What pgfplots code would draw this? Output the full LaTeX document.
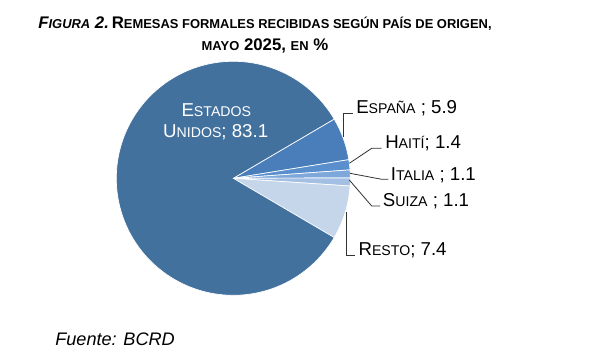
\documentclass[border=0pt]{standalone}
\usepackage{pgfplots}
\pgfplotsset{compat=1.18}
\usepackage{fontspec}
\setmainfont{Liberation Sans}

\definecolor{cUS}{HTML}{43719E}
\definecolor{cES}{HTML}{4A7EBB}
\definecolor{cHT}{HTML}{5A8FCE}
\definecolor{cIT}{HTML}{7EA7DA}
\definecolor{cSU}{HTML}{A3BFE3}
\definecolor{cRE}{HTML}{C5D5EA}

% fake small caps
\newcommand{\lsc}[2]{#1{\fontsize{10.6}{12}\selectfont #2}}
\newcommand{\tsc}[2]{#1{\fontsize{9.7}{12}\selectfont #2}}

\def\cx{233.3}\def\cy{178.3}\def\R{117}
\def\acur{30.42}
\newcommand{\slice}[3][80]{%
  \pgfmathsetmacro{\aend}{\acur-#2*3.6}%
  \edef\temp{\noexpand\addplot[fill=#3, draw=white, line width=0.5pt, domain=\aend:\acur, samples=#1]
    ({\cx+\R*cos(x)},{\cy-\R*sin(x)}) -- (axis cs:\cx,\cy) -- cycle;}%
  \temp
  \xdef\acur{\aend}%
}

\begin{document}
\begin{tikzpicture}
\begin{axis}[width=450.75pt,height=268.5pt,scale only axis,hide axis,clip=false,
  xmin=0,xmax=601,ymin=0,ymax=358,y dir=reverse]
% data: España 5.9, Haití 1.4, Italia 1.1, Suiza 1.1, Resto 7.4, Estados Unidos 83.1
\slice[40]{5.9}{cES}
\slice[20]{1.4}{cHT}
\slice[20]{1.1}{cIT}
\slice[20]{1.1}{cSU}
\slice[40]{7.4}{cRE}
\slice[200]{83.1}{cUS}

% title
\node[anchor=base] at (axis cs:265,28) {\fontsize{12.6}{15}\selectfont\bfseries
  {\itshape\tsc{F}{IGURA} 2.}\,\tsc{R}{EMESAS FORMALES RECIBIDAS SEGÚN PAÍS DE ORIGEN,}};
\node[anchor=base] at (axis cs:265,50.5) {\fontsize{12.6}{15}\selectfont\bfseries
  \tsc{}{MAYO} 2025, \tsc{}{EN} \%};

% US label
\node[anchor=base,text=white] at (axis cs:216.3,116) {\fontsize{14}{16}\selectfont \lsc{E}{STADOS}};
\node[anchor=base,text=white] at (axis cs:215.7,137.7) {\fontsize{14}{16}\selectfont \lsc{U}{NIDOS}; 83.1};

% leader lines
\draw[black!80, line width=0.6pt] (axis cs:343.3,136.7) -- (axis cs:343.3,113.3) -- (axis cs:353.3,113.3);
\draw[black!80, line width=0.6pt] (axis cs:349.3,163.3) -- (axis cs:371.7,148.3) -- (axis cs:381.7,148.3);
\draw[black!80, line width=0.6pt] (axis cs:350,173.3) -- (axis cs:381.7,179.3) -- (axis cs:388.3,179.3);
\draw[black!80, line width=0.6pt] (axis cs:349.3,180) -- (axis cs:371.7,206) -- (axis cs:380,206);
\draw[black!80, line width=0.6pt] (axis cs:346,211.7) -- (axis cs:346,255) -- (axis cs:355,255);

% labels
\node[anchor=base west,inner sep=0pt] at (axis cs:356,113.3) {\fontsize{14}{16}\selectfont \lsc{E}{SPAÑA} ; 5.9};
\node[anchor=base west,inner sep=0pt] at (axis cs:385,148.3) {\fontsize{14}{16}\selectfont \lsc{H}{AITÍ}; 1.4};
\node[anchor=base west,inner sep=0pt] at (axis cs:390.7,180) {\fontsize{14}{16}\selectfont \lsc{I}{TALIA} ; 1.1};
\node[anchor=base west,inner sep=0pt] at (axis cs:382.7,206.7) {\fontsize{14}{16}\selectfont \lsc{S}{UIZA} ; 1.1};
\node[anchor=base west,inner sep=0pt] at (axis cs:358.3,255) {\fontsize{14}{16}\selectfont \lsc{R}{ESTO}; 7.4};

% footer
\node[anchor=base west,inner sep=0pt] at (axis cs:55,345.7) {\fontsize{13.6}{15}\selectfont\itshape Fuente: BCRD};
\end{axis}
\pgfresetboundingbox
\path (0,0) rectangle (450.75pt,268.5pt);
\end{tikzpicture}
\end{document}
